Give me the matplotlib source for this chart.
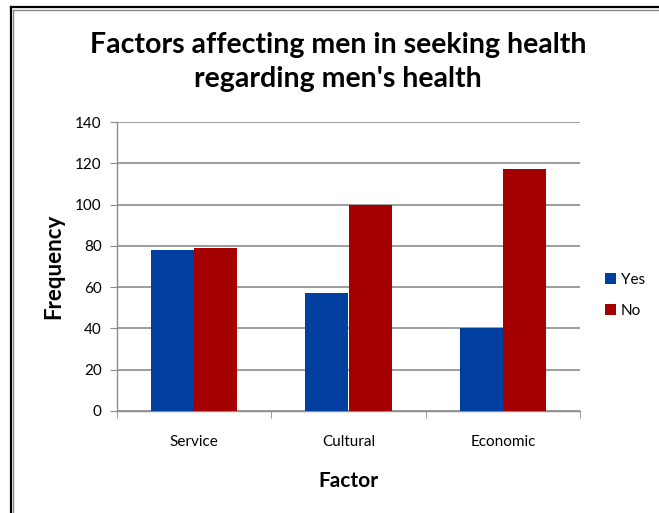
import matplotlib
matplotlib.use("Agg")
import matplotlib.pyplot as plt
import numpy as np
from matplotlib.lines import Line2D

plt.rcParams["font.family"] = ["Lato", "DejaVu Sans"]

categories = ["Service", "Cultural", "Economic"]
yes_vals = [78, 57, 40]
no_vals = [79, 100, 117]
y_ticks = [0, 20, 40, 60, 80, 100, 120, 140]

BLUE = "#003f9f"
RED = "#a50000"
W = 659 / 100
H = 513 / 100

fig = plt.figure(figsize=(W, H), dpi=100)
ax = fig.add_axes([117 / 659, 1 - 411 / 513, (580 - 117) / 659, (411 - 122) / 513])

x = np.arange(len(categories))
bw = 0.28
ax.bar(x - bw / 2, yes_vals, bw, color=BLUE, label="Yes", zorder=3)
ax.bar(x + bw / 2, no_vals, bw, color=RED, label="No", zorder=3)

ax.set_xlim(-0.5, len(categories) - 0.5)
ax.set_ylim(0, 140)
ax.set_yticks(y_ticks)
ax.yaxis.grid(True, color="#8c8c8c", linewidth=1.2, zorder=0)
ax.set_axisbelow(True)
for s in ("top", "right"):
    ax.spines[s].set_visible(False)
for s in ("left", "bottom"):
    ax.spines[s].set_color("#8c8c8c")
    ax.spines[s].set_linewidth(1.0)

ax.set_xticks(x)
ax.set_xticklabels(categories, fontsize=11)
ax.tick_params(axis="x", length=0, pad=17)
ax.set_xticks(np.arange(len(categories) + 1) - 0.5, minor=True)
ax.tick_params(axis="x", which="minor", length=5, color="#8c8c8c")
ax.tick_params(axis="y", labelsize=11, length=5, color="#8c8c8c", pad=6)

ax.set_ylabel("Frequency", fontsize=16, fontweight="bold", labelpad=8)
ax.set_xlabel("Factor", fontsize=15, fontweight="bold", labelpad=16)

fig.text(338 / 659, 1 - 62 / 513,
         "Factors affecting men in seeking health\nregarding men's health",
         ha="center", va="center", fontsize=20.5, fontweight="bold",
         linespacing=1.4)

ax.legend(loc="center left", bbox_to_anchor=(1.025, 0.4), frameon=False,
          fontsize=11, handlelength=0.7, handleheight=0.7,
          handletextpad=0.3, labelspacing=1.1)

# outer chart frame (double line)
for off, lw, c in ((0, 1.6, "black"), (2.5, 1.0, "#888888")):
    fig.add_artist(Line2D([(11 + off) / W / 100, (11 + off) / W / 100],
                          [0, 1 - (7 + off) / H / 100],
                          transform=fig.transFigure, color=c, linewidth=lw))
    fig.add_artist(Line2D([(11 + off) / W / 100, 1],
                          [1 - (7 + off) / H / 100, 1 - (7 + off) / H / 100],
                          transform=fig.transFigure, color=c, linewidth=lw))

fig.savefig("out.png", dpi=100)
